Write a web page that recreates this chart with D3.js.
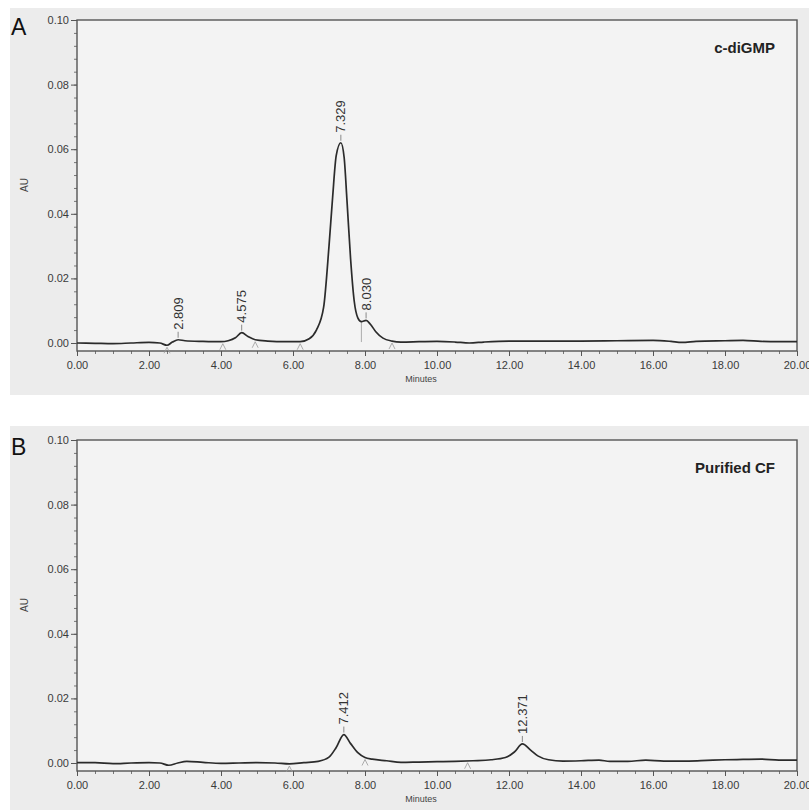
<!DOCTYPE html>
<html>
<head>
<meta charset="utf-8">
<script src="https://cdn.jsdelivr.net/npm/d3@7"></script>
<style>
  body { margin: 0; background: #fff; }
  text { font-family: Arial, "Liberation Sans", sans-serif; }
</style>
</head>
<body>
<div id="chart"></div>
<script>
// retention time (min) and absorbance (AU)
var timeA = [0.0, 0.5, 1.0, 1.5, 2.0, 2.3, 2.5, 2.65, 2.81, 3.0, 3.5, 4.0, 4.2, 4.4, 4.575, 4.75, 4.95, 5.3, 5.8, 6.2,
             6.45, 6.65, 6.85, 7.0, 7.1, 7.2, 7.329, 7.42, 7.5, 7.6, 7.7, 7.8, 7.9, 8.03, 8.15, 8.3, 8.5, 8.75, 9.0,
             9.5, 10.0, 10.5, 10.9, 11.3, 12.0, 13.0, 14.0, 15.0, 16.0, 16.5, 16.8, 17.2, 18.0, 18.5, 19.0, 19.5, 20.0];
var auA = [0.0000, -0.0001, -0.0002, 0.0000, 0.0002, 0.0000, -0.0007, 0.0003, 0.0010, 0.0007, 0.0005, 0.0004, 0.0007, 0.0016, 0.0032, 0.0020, 0.0010, 0.0006, 0.0004, 0.0004,
           0.0013, 0.0040, 0.0110, 0.0300, 0.0450, 0.0580, 0.0620, 0.0575, 0.0440, 0.0260, 0.0130, 0.0078, 0.0066, 0.0070, 0.0058, 0.0035, 0.0015, 0.0006, 0.0003,
           0.0004, 0.0005, 0.0003, 0.0000, 0.0003, 0.0006, 0.0006, 0.0006, 0.0007, 0.0008, 0.0005, 0.0002, 0.0005, 0.0007, 0.0008, 0.0005, 0.0004, 0.0004];

var timeB = [0.0, 0.5, 1.0, 1.5, 2.0, 2.3, 2.55, 2.8, 3.05, 3.5, 4.0, 4.5, 5.0, 5.5, 5.9, 6.3, 6.7, 7.0, 7.2, 7.412,
             7.6, 7.8, 8.0, 8.2, 8.6, 9.0, 9.5, 10.0, 10.5, 11.0, 11.5, 11.9, 12.15, 12.371, 12.6, 12.8, 13.1, 13.5,
             14.0, 14.5, 14.8, 15.3, 15.8, 16.3, 17.0, 17.5, 18.0, 18.5, 19.0, 19.5, 20.0];
var auB = [0.0001, 0.0001, -0.0002, 0.0000, 0.0001, 0.0000, -0.0007, 0.0000, 0.0005, 0.0002, -0.0001, 0.0000, 0.0001, 0.0000, -0.0003, 0.0001, 0.0005, 0.0018, 0.0048, 0.0088,
           0.0060, 0.0032, 0.0017, 0.0012, 0.0007, 0.0002, 0.0003, 0.0004, 0.0005, 0.0007, 0.0010, 0.0017, 0.0034, 0.0059, 0.0040, 0.0022, 0.0010, 0.0006,
           0.0007, 0.0009, 0.0005, 0.0005, 0.0009, 0.0006, 0.0006, 0.0008, 0.0010, 0.0011, 0.0012, 0.0009, 0.0009];

// labelled peaks
var peaksA = [2.809, 4.575, 7.329, 8.030];
var peaksB = [7.412, 12.371];

// integration start/end marks and drop lines
var marksA = [2.5, 4.05, 4.95, 6.2, 8.75];
var marksB = [5.9, 8.0, 10.85];
var dropsA = [7.9];

var xTicks = [0, 2, 4, 6, 8, 10, 12, 14, 16, 18, 20];
var yTicks = [0, 0.02, 0.04, 0.06, 0.08, 0.10];

var width = 809, height = 810;

var svg = d3.select("#chart")
  .append("svg")
    .attr("width", width)
    .attr("height", height);

function drawPanel(top, letter, title, time, au, peaks, marks, drops, bgTop, bgBottom) {
  var g = svg.append("g");

  // grey scan background
  g.append("rect")
      .attr("x", 10).attr("y", bgTop)
      .attr("width", width - 10).attr("height", bgBottom - bgTop)
      .attr("fill", "#ececec");

  var x = d3.scaleLinear().domain([0, 20]).range([77, 797]);
  var y = d3.scaleLinear().domain([0, 0.10]).range([top + 323, top]);
  var axisY = top + 331;

  g.append("rect")
      .attr("x", 77).attr("y", top)
      .attr("width", 720).attr("height", axisY - top)
      .attr("fill", "#f3f3f3");

  // minor ticks
  g.append("g")
    .attr("transform", "translate(77,0)")
    .call(d3.axisLeft(y).tickValues(d3.range(0, 0.1001, 0.004)).tickSize(3).tickFormat(""))
    .call(s => s.select(".domain").remove())
    .selectAll("line").attr("stroke", "#777");
  g.append("g")
    .attr("transform", "translate(0," + axisY + ")")
    .call(d3.axisBottom(x).tickValues(d3.range(0, 20.01, 0.5)).tickSize(3).tickFormat(""))
    .call(s => s.select(".domain").remove())
    .selectAll("line").attr("stroke", "#777");

  // major ticks and labels
  var ya = g.append("g")
    .attr("transform", "translate(77,0)")
    .call(d3.axisLeft(y).tickValues(yTicks).tickSize(6).tickPadding(2).tickFormat(d3.format(".2f")));
  ya.select(".domain").remove();
  ya.selectAll("line").attr("stroke", "#555");
  ya.selectAll("text").attr("font-size", 11).attr("fill", "#3a3a3a");

  var xa = g.append("g")
    .attr("transform", "translate(0," + axisY + ")")
    .call(d3.axisBottom(x).tickValues(xTicks).tickSize(5).tickPadding(5).tickFormat(d3.format(".2f")));
  xa.select(".domain").remove();
  xa.selectAll("line").attr("stroke", "#555");
  xa.selectAll("text").attr("font-size", 11).attr("fill", "#3a3a3a");

  // frame
  g.append("rect")
      .attr("x", 77).attr("y", top)
      .attr("width", 720).attr("height", axisY - top)
      .attr("fill", "none")
      .attr("stroke", "#555")
      .attr("stroke-width", 1.4);

  var pts = time.map((t, i) => [t, au[i]]);
  function valAt(t) {
    var best = pts[0];
    pts.forEach(p => { if (Math.abs(p[0] - t) < Math.abs(best[0] - t)) best = p; });
    return best[1];
  }

  // integration baseline marks
  marks.forEach(function(t) {
    var px = x(t), py = y(valAt(t)) + 2;
    g.append("path")
        .attr("d", "M" + (px - 3) + "," + (py + 6) + " L" + px + "," + py + " L" + (px + 3) + "," + (py + 6))
        .attr("fill", "none")
        .attr("stroke", "#999")
        .attr("stroke-width", 0.8);
  });

  // drop lines between unresolved peaks
  drops.forEach(function(t) {
    g.append("line")
        .attr("x1", x(t)).attr("x2", x(t))
        .attr("y1", y(valAt(t))).attr("y2", y(0.0003))
        .attr("stroke", "#999")
        .attr("stroke-width", 0.8);
  });

  // trace
  g.append("path")
    .datum(pts)
    .attr("fill", "none")
    .attr("stroke", "#2b2b2b")
    .attr("stroke-width", 1.7)
    .attr("d", d3.line()
      .x(function(d) { return x(d[0]) })
      .y(function(d) { return y(d[1]) })
      .curve(d3.curveMonotoneX)
    );

  // peak labels
  peaks.forEach(function(t) {
    var px = x(t), py = y(valAt(t));
    g.append("line")
        .attr("x1", px).attr("x2", px)
        .attr("y1", py - 2).attr("y2", py - 8)
        .attr("stroke", "#888");
    g.append("text")
        .attr("transform", "translate(" + (px + 4.5) + "," + (py - 10) + ") rotate(-90)")
        .attr("font-size", 13)
        .attr("fill", "#333")
        .text(t.toFixed(3));
  });

  g.append("text")
      .attr("x", 28).attr("y", top + 165)
      .attr("transform", "rotate(-90," + 28 + "," + (top + 165) + ")")
      .attr("text-anchor", "middle")
      .attr("font-size", 10)
      .attr("fill", "#444")
      .text("AU");

  g.append("text")
      .attr("x", 421).attr("y", axisY + 31)
      .attr("text-anchor", "middle")
      .attr("font-size", 9)
      .attr("fill", "#444")
      .text("Minutes");

  g.append("text")
      .attr("x", 775).attr("y", top + 33)
      .attr("text-anchor", "end")
      .attr("font-size", 15)
      .attr("font-weight", "bold")
      .attr("fill", "#222")
      .text(title);

  g.append("text")
      .attr("x", 11).attr("y", top + 15)
      .attr("font-size", 23)
      .attr("fill", "#111")
      .text(letter);
}

drawPanel(20, "A", "c-diGMP", timeA, auA, peaksA, marksA, dropsA, 8, 395);
drawPanel(440, "B", "Purified CF", timeB, auB, peaksB, marksB, [], 426, 810);
</script>
</body>
</html>
